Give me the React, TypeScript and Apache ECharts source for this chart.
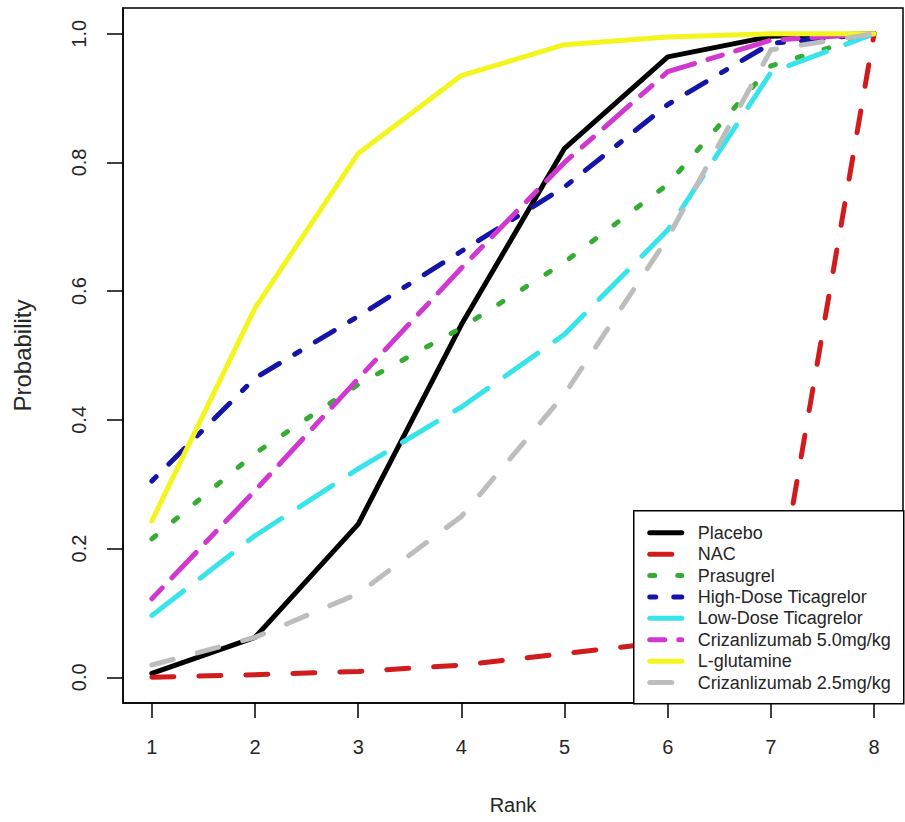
import React, { useEffect, useRef } from "react";
import * as echarts from "echarts";

// Rank positions on the x axis and tick positions for both axes
const ranks = [1, 2, 3, 4, 5, 6, 7, 8];
const xTicks = [1, 2, 3, 4, 5, 6, 7, 8];
const yTicks = [0, 0.2, 0.4, 0.6, 0.8, 1.0];

// Cumulative ranking probabilities per treatment
const placebo = [0.006, 0.062, 0.238, 0.548, 0.822, 0.964, 0.996, 1.0];
const nac = [0.0, 0.004, 0.009, 0.019, 0.037, 0.055, 0.07, 1.0];
const prasugrel = [0.215, 0.348, 0.455, 0.543, 0.645, 0.766, 0.95, 1.0];
const highDoseTicagrelor = [0.305, 0.465, 0.561, 0.662, 0.762, 0.89, 0.985, 1.0];
const lowDoseTicagrelor = [0.096, 0.22, 0.324, 0.42, 0.533, 0.695, 0.94, 1.0];
const crizanlizumab50 = [0.122, 0.29, 0.464, 0.636, 0.8, 0.941, 0.99, 1.0];
const lGlutamine = [0.243, 0.574, 0.814, 0.935, 0.983, 0.995, 1.0, 1.0];
const crizanlizumab25 = [0.019, 0.062, 0.13, 0.25, 0.44, 0.683, 0.975, 1.0];

const treatmentNames = [
  "Placebo",
  "NAC",
  "Prasugrel",
  "High-Dose Ticagrelor",
  "Low-Dose Ticagrelor",
  "Crizanlizumab 5.0mg/kg",
  "L-glutamine",
  "Crizanlizumab 2.5mg/kg",
];
const treatmentValues = [
  placebo,
  nac,
  prasugrel,
  highDoseTicagrelor,
  lowDoseTicagrelor,
  crizanlizumab50,
  lGlutamine,
  crizanlizumab25,
];
const treatmentColors = [
  "#000000",
  "#d01c1c",
  "#35ad35",
  "#1414a8",
  "#38e4ea",
  "#d038d0",
  "#f4f41e",
  "#bdbdbd",
];
// Dash patterns (round caps add the line width to each dash)
const treatmentDashes: (number[] | "solid")[] = [
  "solid",
  [22, 25],
  [5, 23],
  [6, 18, 22, 18],
  [40, 21],
  [15, 14, 35, 14],
  "solid",
  [22, 25],
];

const FONT = "'Liberation Sans', Arial, Helvetica, sans-serif";
const TEXT = "#262626";
const LINE_W = 5;

export default function App() {
  const ref = useRef<HTMLDivElement>(null);

  useEffect(() => {
    if (!ref.current) return;
    const chart = echarts.init(ref.current, undefined, { renderer: "svg" });

    const series = treatmentNames.map((name, i) => ({
      name,
      type: "line",
      data: ranks.map((r, j) => [r, treatmentValues[i][j]]),
      showSymbol: false,
      symbol: "none",
      lineStyle: {
        color: treatmentColors[i],
        width: LINE_W,
        type: treatmentDashes[i],
        cap: "round",
        join: "round",
      },
      z: 2 + i,
    }));

    // Legend box in the lower-right corner of the plot
    const legendLeft = 633;
    const legendTop = 510;
    const legendW = 270;
    const legendH = 193;
    const rowTop = 22;
    const rowGap = 21.4;
    const legendChildren: any[] = [
      {
        type: "rect",
        z: 100,
        shape: { x: 0, y: 0, width: legendW, height: legendH },
        style: { fill: "#ffffff", stroke: "#000000", lineWidth: 1.5 },
      },
    ];
    treatmentNames.forEach((name, i) => {
      const y = rowTop + i * rowGap;
      const dash = treatmentDashes[i];
      legendChildren.push({
        type: "line",
        z: 101,
        shape: { x1: 16, y1: y, x2: 48, y2: y },
        style: {
          stroke: treatmentColors[i],
          lineWidth: LINE_W,
          lineCap: "round",
          lineDash: dash === "solid" ? null : dash,
        },
      });
      legendChildren.push({
        type: "text",
        z: 101,
        x: 64,
        y,
        style: {
          text: name,
          fill: TEXT,
          font: `18px ${FONT}`,
          textVerticalAlign: "middle",
          textAlign: "left",
        },
      });
    });

    chart.setOption({
      animation: false,
      backgroundColor: "#ffffff",
      textStyle: { fontFamily: FONT },
      grid: {
        left: 123,
        right: 2,
        top: 8,
        bottom: 119,
        show: true,
        borderColor: "#000000",
        borderWidth: 1.5,
        backgroundColor: "transparent",
      },
      xAxis: {
        type: "value",
        min: 0.72,
        max: 8.28,
        name: "Rank",
        nameLocation: "middle",
        nameGap: 92,
        nameTextStyle: { fontSize: 20, color: TEXT, fontFamily: FONT, verticalAlign: "top" },
        axisLine: { show: true, onZero: false, lineStyle: { color: "#000", width: 1.5 } },
        axisTick: {
          show: true,
          customValues: xTicks,
          length: 15,
          inside: false,
          lineStyle: { color: "#000", width: 1.5 },
        },
        axisLabel: {
          customValues: xTicks,
          margin: 34,
          fontSize: 20,
          color: TEXT,
          fontFamily: FONT,
          formatter: (v: number) => String(v),
        },
        splitLine: { show: false },
      },
      yAxis: {
        type: "value",
        min: -0.04,
        max: 1.04,
        name: "Probability",
        nameLocation: "middle",
        nameGap: 89,
        nameRotate: 90,
        nameTextStyle: { fontSize: 24, color: TEXT, fontFamily: FONT },
        axisLine: { show: true, onZero: false, lineStyle: { color: "#000", width: 1.5 } },
        axisTick: {
          show: true,
          customValues: yTicks,
          length: 16,
          inside: false,
          lineStyle: { color: "#000", width: 1.5 },
        },
        axisLabel: {
          customValues: yTicks,
          rotate: 90,
          margin: 34,
          fontSize: 20,
          color: TEXT,
          fontFamily: FONT,
          formatter: (v: number) => v.toFixed(1),
        },
        splitLine: { show: false },
      },
      series,
      graphic: {
        elements: [
          {
            type: "group",
            left: legendLeft,
            top: legendTop,
            z: 100,
            children: legendChildren,
          },
        ],
      },
    });

    return () => {
      chart.dispose();
    };
  }, []);

  return (
    <div
      ref={ref}
      style={{ position: "fixed", left: 0, top: 0, width: 905, height: 822, background: "#fff" }}
    />
  );
}
